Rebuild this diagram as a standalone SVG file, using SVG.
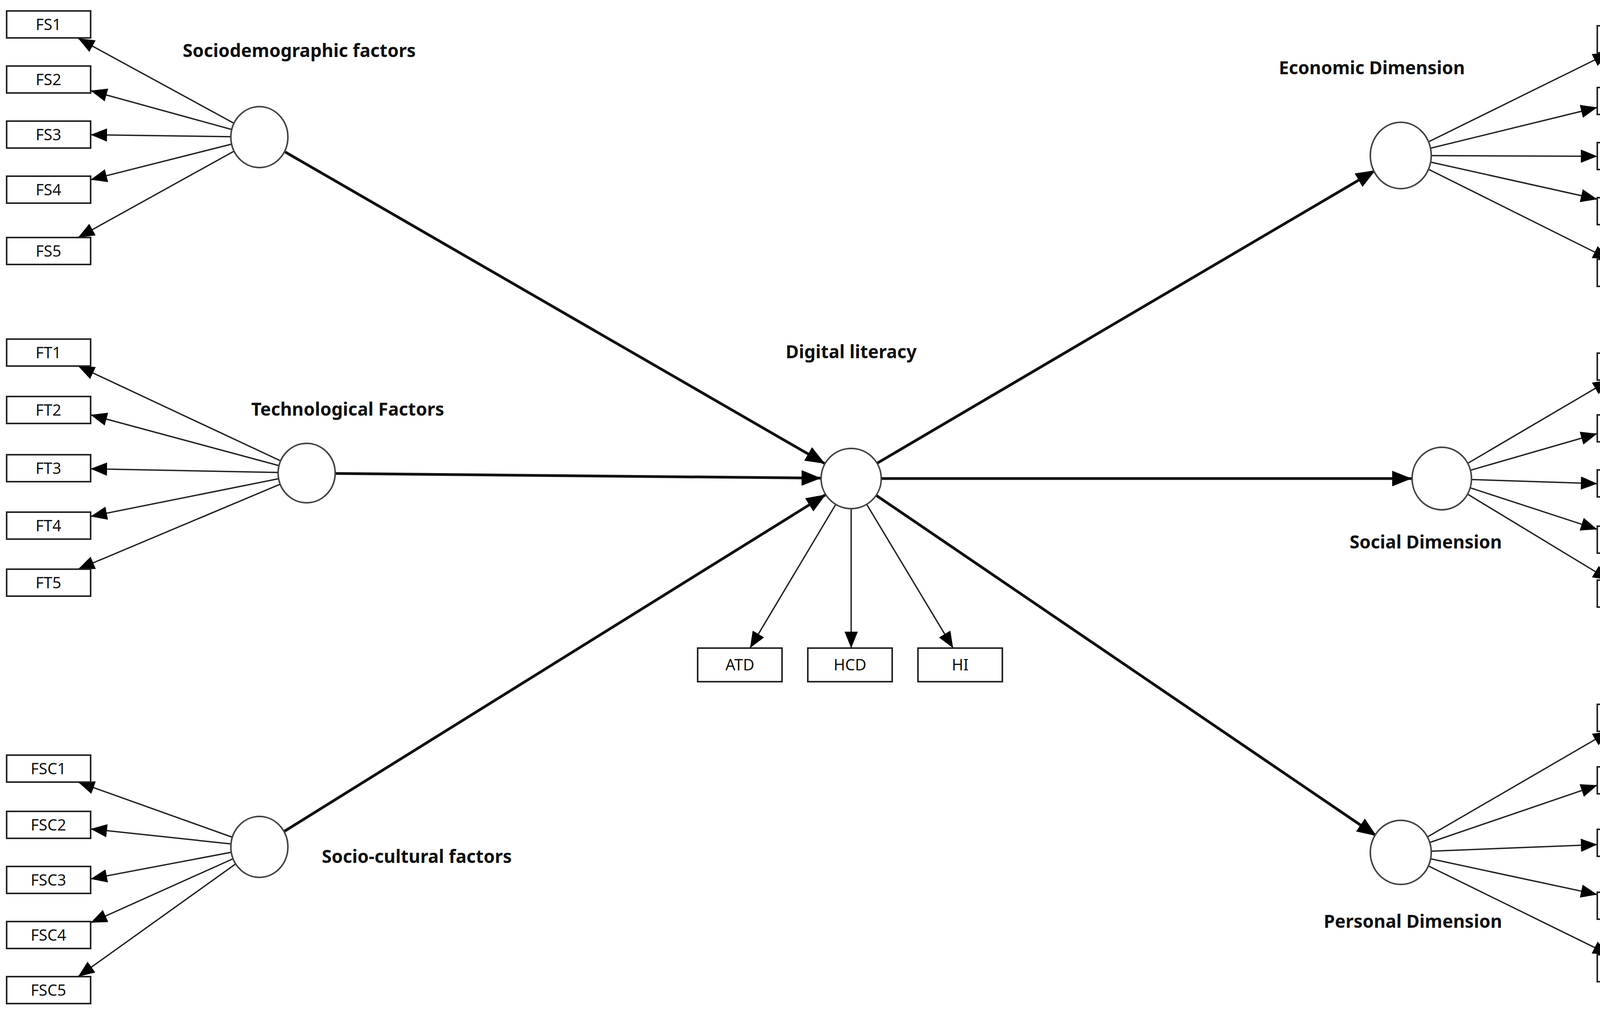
<svg xmlns="http://www.w3.org/2000/svg" width="4324" height="2588" viewBox="0 0 4324 2588">
<style>
.b{fill:#fff;stroke:#222;stroke-width:4}
.c{fill:#fff;stroke:#444;stroke-width:4}
.t{font-family:"Noto Sans",sans-serif;font-size:40px;text-anchor:middle;fill:#111}
.h{font-family:"Noto Sans",sans-serif;font-size:46px;font-weight:bold;text-anchor:middle;fill:#111}
.thin{stroke:#222;stroke-width:3.5;fill:none;marker-end:url(#a)}
.thick{stroke:#111;stroke-width:7;fill:none;marker-end:url(#A)}
</style>
<defs>
<marker id="a" markerUnits="userSpaceOnUse" markerWidth="44" markerHeight="34" refX="42" refY="17" orient="auto"><path d="M0,0 L42,17 L0,34 Z" fill="#000"/></marker>
<marker id="A" markerUnits="userSpaceOnUse" markerWidth="52" markerHeight="40" refX="50" refY="20" orient="auto"><path d="M0,0 L50,20 L0,40 Z" fill="#000"/></marker>
</defs>
<rect width="4324" height="2588" fill="#fff"/>
<g id="connectors">
<line class="thin" x1="664" y1="351" x2="200" y2="98"/>
<line class="thin" x1="664" y1="351" x2="232" y2="232"/>
<line class="thin" x1="664" y1="351" x2="232" y2="345"/>
<line class="thin" x1="664" y1="351" x2="232" y2="460"/>
<line class="thin" x1="664" y1="351" x2="200" y2="608"/>
<line class="thin" x1="785" y1="1211" x2="200" y2="937"/>
<line class="thin" x1="785" y1="1211" x2="232" y2="1062"/>
<line class="thin" x1="785" y1="1211" x2="232" y2="1200"/>
<line class="thin" x1="785" y1="1211" x2="232" y2="1322"/>
<line class="thin" x1="785" y1="1211" x2="200" y2="1457"/>
<line class="thin" x1="664" y1="2168" x2="200" y2="2002"/>
<line class="thin" x1="664" y1="2168" x2="232" y2="2122"/>
<line class="thin" x1="664" y1="2168" x2="232" y2="2250"/>
<line class="thin" x1="664" y1="2168" x2="232" y2="2362"/>
<line class="thin" x1="664" y1="2168" x2="200" y2="2500"/>
<line class="thin" x1="3586" y1="398" x2="4120" y2="135"/>
<line class="thin" x1="3586" y1="398" x2="4089" y2="275"/>
<line class="thin" x1="3586" y1="398" x2="4089" y2="400"/>
<line class="thin" x1="3586" y1="398" x2="4089" y2="510"/>
<line class="thin" x1="3586" y1="398" x2="4120" y2="664"/>
<line class="thin" x1="3691" y1="1225" x2="4120" y2="973"/>
<line class="thin" x1="3691" y1="1225" x2="4089" y2="1110"/>
<line class="thin" x1="3691" y1="1225" x2="4089" y2="1238"/>
<line class="thin" x1="3691" y1="1225" x2="4089" y2="1355"/>
<line class="thin" x1="3691" y1="1225" x2="4120" y2="1485"/>
<line class="thin" x1="3586" y1="2182" x2="4120" y2="1872"/>
<line class="thin" x1="3586" y1="2182" x2="4089" y2="2010"/>
<line class="thin" x1="3586" y1="2182" x2="4089" y2="2162"/>
<line class="thin" x1="3586" y1="2182" x2="4089" y2="2290"/>
<line class="thin" x1="3586" y1="2182" x2="4120" y2="2444"/>
<line class="thin" x1="2179" y1="1225" x2="1920" y2="1659"/>
<line class="thin" x1="2179" y1="1225" x2="2179" y2="1659"/>
<line class="thin" x1="2179" y1="1225" x2="2440" y2="1659"/>
<line class="thick" x1="730" y1="389" x2="2112" y2="1187"/>
<line class="thick" x1="860" y1="1212" x2="2102" y2="1224"/>
<line class="thick" x1="728" y1="2128" x2="2114" y2="1266"/>
<line class="thick" x1="2245" y1="1186" x2="3521" y2="436"/>
<line class="thick" x1="2256" y1="1225" x2="3614" y2="1225"/>
<line class="thick" x1="2243" y1="1268" x2="3524" y2="2140"/>
</g>
<g id="n-sd"><ellipse class="c" cx="664" cy="351" rx="73" ry="78"/><text class="h" x="766" y="146">Sociodemographic factors</text></g>
<g id="n-tf"><ellipse class="c" cx="785" cy="1211" rx="73" ry="76"/><text class="h" x="890" y="1064">Technological Factors</text></g>
<g id="n-sc"><ellipse class="c" cx="664" cy="2168" rx="73" ry="78"/><text class="h" x="1067" y="2209">Socio-cultural factors</text></g>
<g id="n-dl"><circle class="c" cx="2179" cy="1225" r="77"/><text class="h" x="2179" y="917">Digital literacy</text></g>
<g id="n-ed"><ellipse class="c" cx="3586" cy="398" rx="78" ry="85"/><text class="h" x="3512" y="190">Economic Dimension</text></g>
<g id="n-sod"><ellipse class="c" cx="3691" cy="1225" rx="76" ry="80"/><text class="h" x="3650" y="1404">Social Dimension</text></g>
<g id="n-pd"><ellipse class="c" cx="3586" cy="2182" rx="78" ry="82"/><text class="h" x="3617" y="2375">Personal Dimension</text></g>
<g id="ind-fs">
<rect class="b" x="17" y="28" width="215" height="69"/><text class="t" x="124" y="77">FS1</text>
<rect class="b" x="17" y="169" width="215" height="69"/><text class="t" x="124" y="218">FS2</text>
<rect class="b" x="17" y="310" width="215" height="69"/><text class="t" x="124" y="359">FS3</text>
<rect class="b" x="17" y="451" width="215" height="69"/><text class="t" x="124" y="500">FS4</text>
<rect class="b" x="17" y="608" width="215" height="69"/><text class="t" x="124" y="657">FS5</text>
</g>
<g id="ind-ft">
<rect class="b" x="17" y="868" width="215" height="69"/><text class="t" x="124" y="917">FT1</text>
<rect class="b" x="17" y="1015" width="215" height="69"/><text class="t" x="124" y="1064">FT2</text>
<rect class="b" x="17" y="1164" width="215" height="69"/><text class="t" x="124" y="1213">FT3</text>
<rect class="b" x="17" y="1311" width="215" height="69"/><text class="t" x="124" y="1360">FT4</text>
<rect class="b" x="17" y="1457" width="215" height="69"/><text class="t" x="124" y="1506">FT5</text>
</g>
<g id="ind-fsc">
<rect class="b" x="17" y="1933" width="215" height="69"/><text class="t" x="124" y="1982">FSC1</text>
<rect class="b" x="17" y="2077" width="215" height="69"/><text class="t" x="124" y="2126">FSC2</text>
<rect class="b" x="17" y="2218" width="215" height="69"/><text class="t" x="124" y="2267">FSC3</text>
<rect class="b" x="17" y="2359" width="215" height="69"/><text class="t" x="124" y="2408">FSC4</text>
<rect class="b" x="17" y="2500" width="215" height="69"/><text class="t" x="124" y="2549">FSC5</text>
</g>
<g id="ind-dl">
<rect class="b" x="1786" y="1659" width="216" height="86"/><text class="t" x="1894" y="1716">ATD</text>
<rect class="b" x="2068" y="1659" width="216" height="86"/><text class="t" x="2176" y="1716">HCD</text>
<rect class="b" x="2350" y="1659" width="216" height="86"/><text class="t" x="2458" y="1716">HI</text>
</g>
<g id="ind-de">
<rect class="b" x="4089" y="66" width="216" height="69"/><text class="t" x="4197" y="115">DE1</text>
<rect class="b" x="4089" y="224" width="216" height="69"/><text class="t" x="4197" y="273">DE2</text>
<rect class="b" x="4089" y="365" width="216" height="69"/><text class="t" x="4197" y="414">DE3</text>
<rect class="b" x="4089" y="506" width="216" height="69"/><text class="t" x="4197" y="555">DE4</text>
<rect class="b" x="4089" y="664" width="216" height="69"/><text class="t" x="4197" y="713">DE5</text>
</g>
<g id="ind-ds">
<rect class="b" x="4089" y="904" width="216" height="69"/><text class="t" x="4197" y="953">DS1</text>
<rect class="b" x="4089" y="1062" width="216" height="69"/><text class="t" x="4197" y="1111">DS2</text>
<rect class="b" x="4089" y="1203" width="216" height="69"/><text class="t" x="4197" y="1252">DS3</text>
<rect class="b" x="4089" y="1347" width="216" height="69"/><text class="t" x="4197" y="1396">DS4</text>
<rect class="b" x="4089" y="1485" width="216" height="69"/><text class="t" x="4197" y="1534">DS5</text>
</g>
<g id="ind-dp">
<rect class="b" x="4089" y="1803" width="216" height="69"/><text class="t" x="4197" y="1852">DP1</text>
<rect class="b" x="4089" y="1963" width="216" height="69"/><text class="t" x="4197" y="2012">DP2</text>
<rect class="b" x="4089" y="2123" width="216" height="69"/><text class="t" x="4197" y="2172">DP3</text>
<rect class="b" x="4089" y="2284" width="216" height="69"/><text class="t" x="4197" y="2333">DP4</text>
<rect class="b" x="4089" y="2444" width="216" height="69"/><text class="t" x="4197" y="2493">DP5</text>
</g>
</svg>
